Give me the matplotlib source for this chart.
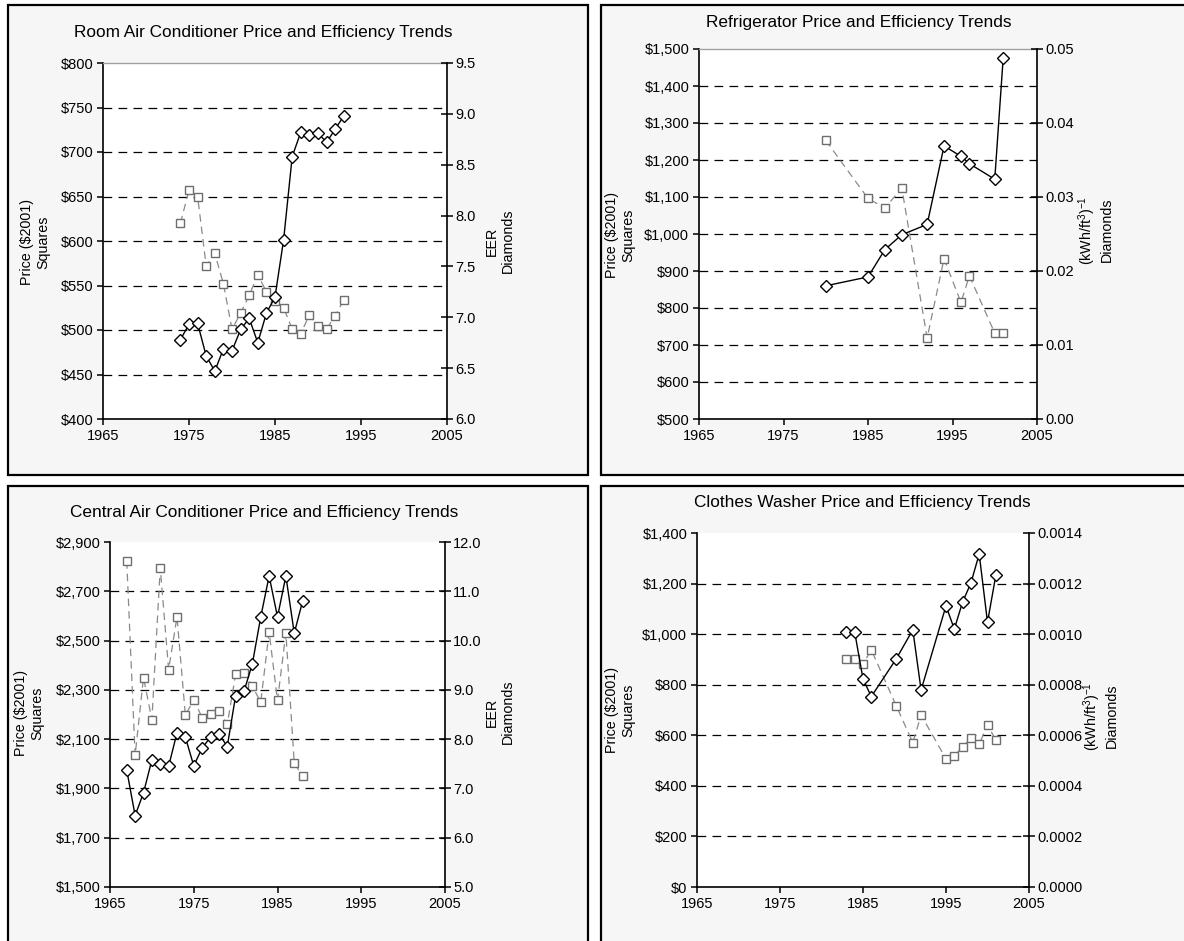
import numpy as np
import matplotlib
matplotlib.use("Agg")
from matplotlib import pyplot as plt
from matplotlib.patches import Rectangle

plt.rcParams['font.family'] = ['Liberation Sans', 'DejaVu Sans']
plt.rcParams['mathtext.fontset'] = 'custom'
plt.rcParams['mathtext.rm'] = 'Liberation Sans'
plt.rcParams['mathtext.it'] = 'Liberation Sans:italic'

#### data

# room air conditioner
rac_price_years = [1974, 1975, 1976, 1977, 1978, 1979, 1980, 1981, 1982, 1983,
                   1984, 1985, 1986, 1987, 1988, 1989, 1990, 1991, 1992, 1993]
rac_price = [620, 657, 650, 572, 586, 552, 501, 519, 539, 562,
             543, 533, 525, 501, 496, 517, 504, 501, 516, 534]
rac_eer_years = rac_price_years
rac_eer = [6.78, 6.93, 6.94, 6.62, 6.47, 6.69, 6.67, 6.88, 6.99, 6.75,
           7.04, 7.20, 7.76, 8.58, 8.82, 8.79, 8.81, 8.72, 8.85, 8.98]

# refrigerator
ref_years = [1980, 1985, 1987, 1989, 1992, 1994, 1996, 1997, 2000, 2001]
ref_price = [1253, 1096, 1070, 1124, 719, 933, 815, 887, 732, 732]
ref_eff = [0.0180, 0.0192, 0.0229, 0.0249, 0.0263, 0.0369, 0.0355, 0.0345, 0.0324, 0.0488]

# central air conditioner
cac_years = [1967, 1968, 1969, 1970, 1971, 1972, 1973, 1974, 1975, 1976, 1977,
             1978, 1979, 1980, 1981, 1982, 1983, 1984, 1985, 1986, 1987, 1988]
cac_price = [2822, 2034, 2350, 2179, 2795, 2382, 2596, 2197, 2260, 2187, 2203,
             2214, 2160, 2363, 2370, 2314, 2251, 2535, 2257, 2531, 2003, 1949]
cac_eer = [7.37, 6.45, 6.91, 7.58, 7.50, 7.45, 8.13, 8.04, 7.46, 7.82, 8.04,
           8.11, 7.85, 8.88, 8.97, 9.53, 10.48, 11.31, 10.48, 11.31, 10.15, 10.80]

# clothes washer
cw_years = [1983, 1984, 1985, 1986, 1989, 1991, 1992, 1995, 1996, 1997, 1998, 1999, 2000, 2001]
cw_price = [901, 901, 881, 938, 717, 571, 680, 507, 518, 555, 588, 565, 641, 581]
cw_eff = [0.001008, 0.001008, 0.000823, 0.000753, 0.000902, 0.001017, 0.000779,
          0.001112, 0.001020, 0.001127, 0.001202, 0.001317, 0.001047, 0.001232]

W, H = 1184, 941
fig = plt.figure(figsize=(W / 100, H / 100), dpi=100)
fig.patch.set_facecolor('white')


def fx(x):
    return x / W


def fy(y):
    return 1 - y / H


def frame(x0, y0, x1, y1):
    fig.patches.append(Rectangle((fx(x0), fy(y1)), fx(x1 - x0), (y1 - y0) / H,
                                 transform=fig.transFigure, facecolor='#f6f6f6',
                                 edgecolor='black', lw=1.6, zorder=-5))


def panel(box, title, title_xy, xs, price, xs2, eff, pticks, plabels,
          eticks, efmt, left_xy, right_xy, right_label, top_line=True):
    l, t, r, b = box
    ax = fig.add_axes([fx(l), fy(b), fx(r - l), (b - t) / H])
    ax.set_facecolor('white')
    ax.set_xlim(1965, 2005)
    ax.set_ylim(pticks[0], pticks[-1])
    ax.set_xticks(np.arange(1965, 2006, 10))
    ax.set_yticks(pticks)
    ax.set_yticklabels(plabels)
    for v in pticks[1:-1]:
        ax.axhline(v, color='black', lw=0.9, ls=(0, (7, 5)), zorder=1)
    ax.spines['right'].set_visible(False)
    if top_line:
        ax.spines['top'].set_color('#a0a0a0')
        ax.spines['top'].set_linewidth(1.0)
    else:
        ax.spines['top'].set_visible(False)
    ax.spines['left'].set_linewidth(1.2)
    ax.spines['bottom'].set_linewidth(1.2)
    ax.tick_params(axis='both', direction='out', length=4, width=1.1,
                   labelsize=10.5, pad=3)
    ax.plot(xs, price, color='#8a8a8a', lw=0.9, ls=(0, (6, 4)), marker='s',
            ms=5.8, mfc='white', mec='#6e6e6e', mew=1.0, zorder=3)

    ax2 = ax.twinx()
    ax2.set_ylim(eticks[0], eticks[-1])
    ax2.set_yticks(eticks)
    ax2.set_yticklabels([efmt.format(v) for v in eticks])
    for s in ['left', 'top', 'bottom']:
        ax2.spines[s].set_visible(False)
    ax2.spines['right'].set_linewidth(1.2)
    ax2.tick_params(axis='y', direction='inout', length=8, width=1.1,
                    labelsize=10.5, pad=2)
    ax2.plot(xs2, eff, color='black', lw=1.0, marker='D', ms=6.5,
             mfc='white', mec='black', mew=1.0, zorder=4)

    fig.text(fx(title_xy[0]), fy(title_xy[1]), title, ha='center', va='center',
             fontsize=12.4)
    fig.text(fx(left_xy[0]), fy(left_xy[1]), 'Price ($2001)\nSquares',
             rotation=90, ha='center', va='center', fontsize=10.3)
    fig.text(fx(right_xy[0]), fy(right_xy[1]), right_label,
             rotation=90, ha='center', va='center', fontsize=10.3)
    return ax, ax2


frame(8, 5, 588, 475)
frame(601, 5, 1200, 475)
frame(8, 486, 588, 960)
frame(601, 486, 1200, 960)

kwh = '(kWh/ft$^{3}$)$^{-1}$\nDiamonds'

p1 = np.arange(400, 801, 50)
panel((103, 63, 447, 419), 'Room Air Conditioner Price and Efficiency Trends', (263, 32),
      rac_price_years, rac_price, rac_eer_years, rac_eer,
      p1, ['${:,}'.format(v) for v in p1], np.arange(6.0, 9.51, 0.5), '{:.1f}',
      (35, 242), (500, 241), 'EER\nDiamonds', top_line=True)

p2 = np.arange(500, 1501, 100)
panel((699, 49, 1037, 419), 'Refrigerator Price and Efficiency Trends', (859, 23),
      ref_years, ref_price, ref_years, ref_eff,
      p2, ['${:,}'.format(v) for v in p2], np.linspace(0, 0.05, 6), '{:.2f}',
      (620, 235), (1095, 230), kwh, top_line=True)

p3 = np.arange(1500, 2901, 200)
panel((110, 542, 445, 887), 'Central Air Conditioner Price and Efficiency Trends', (264, 512),
      cac_years, cac_price, cac_years, cac_eer,
      p3, ['${:,}'.format(v) for v in p3], np.arange(5.0, 12.01, 1.0), '{:.1f}',
      (29, 713), (500, 712), 'EER\nDiamonds', top_line=False)

p4 = np.arange(0, 1401, 200)
panel((697, 533, 1029, 887), 'Clothes Washer Price and Efficiency Trends', (862, 503),
      cw_years, cw_price, cw_years, cw_eff,
      p4, ['${:,}'.format(v) for v in p4], np.linspace(0, 0.0014, 8), '{:.4f}',
      (620, 710), (1100, 716), kwh, top_line=False)

fig.savefig('out.png', dpi=100)
